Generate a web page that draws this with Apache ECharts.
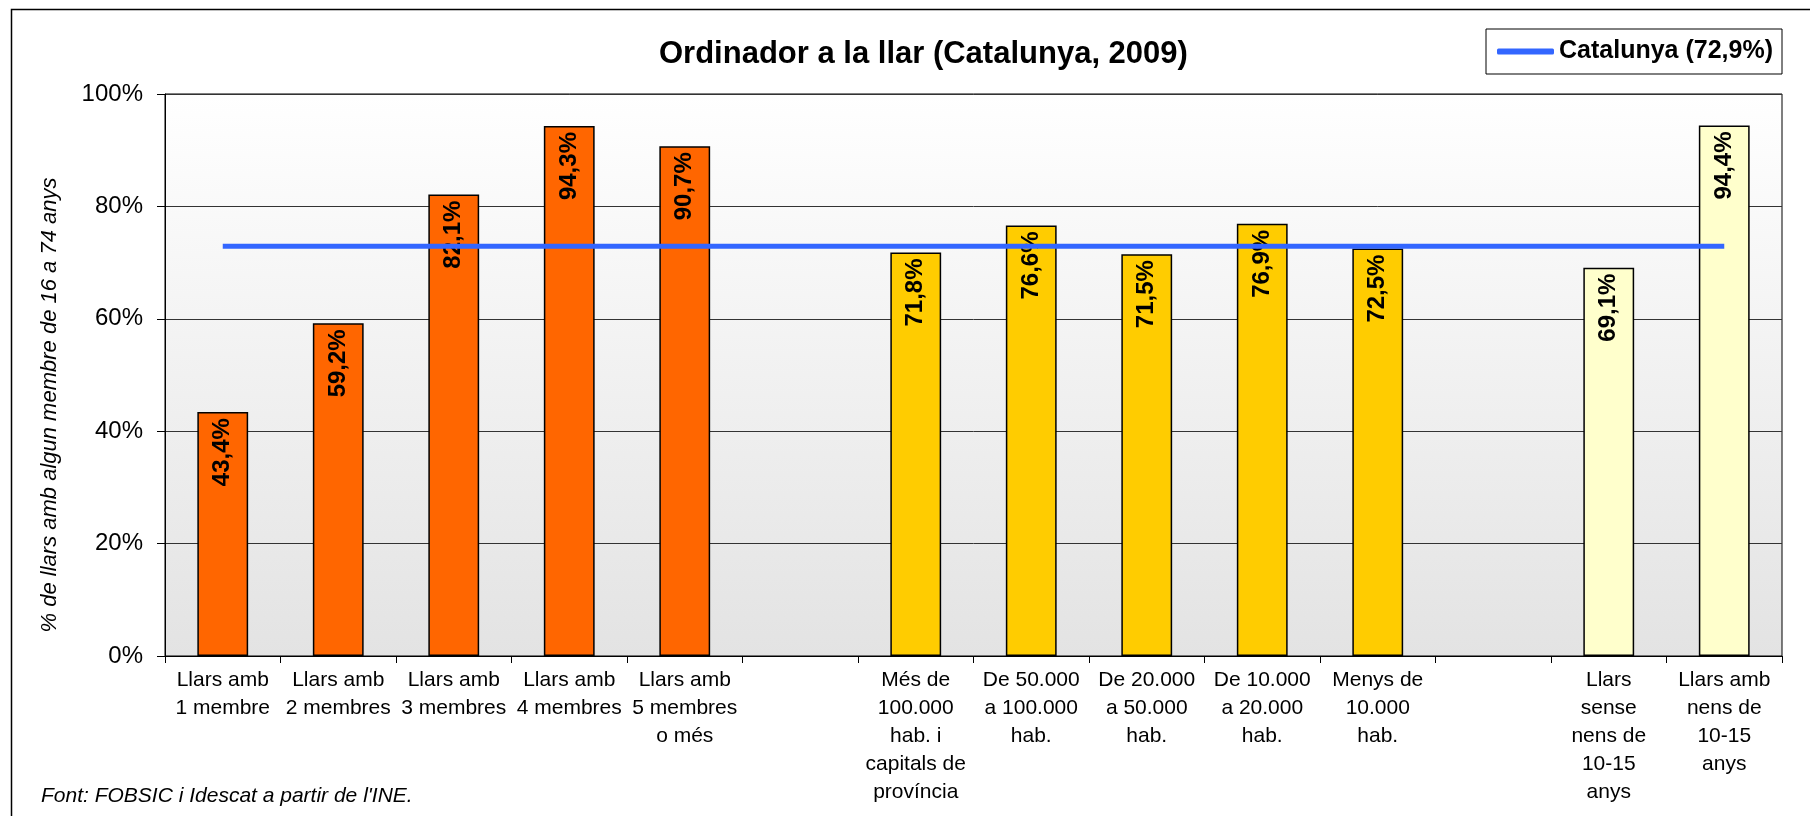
<!DOCTYPE html>
<html>
<head>
<meta charset="utf-8">
<title>Ordinador a la llar (Catalunya, 2009)</title>
<script src="https://cdn.jsdelivr.net/npm/echarts@6/dist/echarts.min.js"></script>
<style>
  html, body { margin: 0; padding: 0; background: #fff; }
  #chart { width: 1810px; height: 816px; }
</style>
</head>
<body>
<div id="chart"></div>
<script>
const categories = [
  'Llars amb\n1 membre',
  'Llars amb\n2 membres',
  'Llars amb\n3 membres',
  'Llars amb\n4 membres',
  'Llars amb\n5 membres\no més',
  '',
  'Més de\n100.000\nhab. i\ncapitals de\nprovíncia',
  'De 50.000\na 100.000\nhab.',
  'De 20.000\na 50.000\nhab.',
  'De 10.000\na 20.000\nhab.',
  'Menys de\n10.000\nhab.',
  ' ',
  'Llars\nsense\nnens de\n10-15\nanys',
  'Llars amb\nnens de\n10-15\nanys',
]
const values = [43.4, 59.2, 82.1, 94.3, 90.7, null, 71.8, 76.6, 71.5, 76.9, 72.5, null, 69.1, 94.4]
// which block each bar belongs to: household size, municipality size, children
const groups = ['mida', 'mida', 'mida', 'mida', 'mida', null, 'municipi', 'municipi', 'municipi', 'municipi', 'municipi', null, 'nens', 'nens']
const catalunyaName = 'Catalunya (72,9%)'
const catalunya = 72.9
const yTicks = [0, 20, 40, 60, 80, 100]

const groupColor = { mida: '#FF6600', municipi: '#FFCC00', nens: '#FFFFCC' }
const font = 'Liberation Sans, Arial, sans-serif'

function pct(v) {
  return v.toFixed(1).replace('.', ',') + '%'
}

function buildOption() {
  return {
    backgroundColor: '#fff',
    textStyle: { fontFamily: font, color: '#000' },
    animation: false,
    title: {
      text: 'Ordinador a la llar (Catalunya, 2009)',
      left: 654,
      top: 34,
      textStyle: { fontSize: 31, fontWeight: 'bold', color: '#000', fontFamily: font },
    },
    legend: {
      left: 1486,
      top: 29,
      padding: [10, 8, 10, 11],
      borderColor: '#000',
      borderWidth: 1,
      itemWidth: 57,
      itemHeight: 6,
      itemGap: 5,
      icon: 'roundRect',
      data: [{ name: catalunyaName, itemStyle: { color: '#3366FF' } }],
      textStyle: { fontSize: 25, fontWeight: 'bold', color: '#000', fontFamily: font, width: 215, lineHeight: 25 },
    },
    grid: {
      left: 165,
      right: 28,
      top: 94,
      bottom: 160,
      show: true,
      borderColor: '#000',
      borderWidth: 1,
      backgroundColor: new echarts.graphic.LinearGradient(0, 0, 0, 1, [
        { offset: 0, color: '#ffffff' },
        { offset: 1, color: '#e3e3e3' },
      ]),
    },
    xAxis: {
      type: 'category',
      data: categories,
      axisLine: { lineStyle: { color: '#000', width: 1 } },
      axisTick: { show: true, alignWithLabel: false, length: 7, lineStyle: { color: '#000' } },
      axisLabel: { interval: 0, fontSize: 21, lineHeight: 28, margin: 10, color: '#000', fontFamily: font },
    },
    yAxis: {
      type: 'value',
      min: yTicks[0],
      max: yTicks[yTicks.length - 1],
      interval: 20,
      name: '% de llars amb algun membre de 16 a 74 anys',
      nameLocation: 'middle',
      nameGap: 104,
      nameTextStyle: {
        fontSize: 22,
        fontStyle: 'italic',
        color: '#000',
        fontFamily: font,
        padding: [0, 60, 0, 0],
      },
      axisLine: { show: true, lineStyle: { color: '#000', width: 1 } },
      axisTick: { show: true, length: 8, lineStyle: { color: '#000' } },
      axisLabel: { formatter: '{value}%', fontSize: 24, margin: 22, color: '#000', fontFamily: font },
      splitLine: { show: true, lineStyle: { color: '#333', width: 1 } },
    },
    series: [
      {
        type: 'bar',
        data: values,
        barWidth: '44%',
        itemStyle: {
          color: (p) => groupColor[groups[p.dataIndex]] || 'transparent',
          borderColor: '#000',
          borderWidth: 1.5,
        },
        label: {
          show: true,
          position: 'insideTop',
          rotate: 90,
          align: 'right',
          verticalAlign: 'middle',
          distance: 6,
          fontSize: 24,
          fontWeight: 'bold',
          color: '#000',
          fontFamily: font,
          formatter: (p) => pct(p.value),
        },
      },
      {
        name: catalunyaName,
        type: 'line',
        data: [[0, catalunya], [categories.length - 1, catalunya]],
        symbol: 'none',
        lineStyle: { color: '#3366FF', width: 5 },
        itemStyle: { color: '#3366FF' },
        z: 3,
      },
    ],
    graphic: [
      {
        type: 'rect',
        shape: { x: 11.5, y: 9.5, width: 1900, height: 900 },
        style: { fill: 'none', stroke: '#000', lineWidth: 1.5 },
        silent: true,
      },
      {
        type: 'text',
        left: 41,
        top: 786,
        style: {
          text: "Font: FOBSIC i Idescat a partir de l'INE.",
          font: 'italic 21px Liberation Sans, Arial, sans-serif',
          fill: '#000',
        },
      },
    ],
  }
}

const chart = echarts.init(document.getElementById('chart'))
chart.setOption(buildOption())
</script>
</body>
</html>
